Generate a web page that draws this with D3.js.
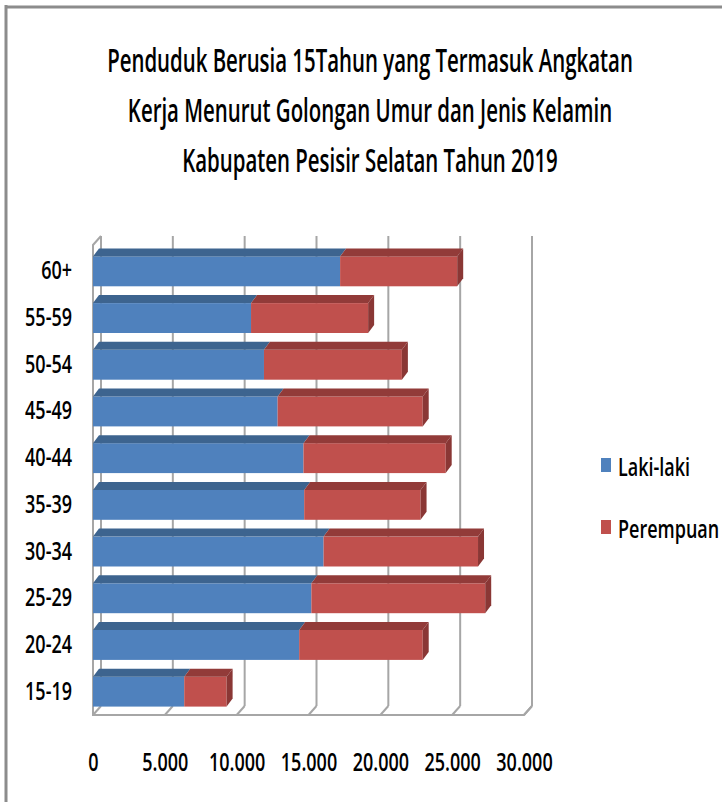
<!DOCTYPE html>
<head>
  <meta charset="utf-8">
  <script src="https://d3js.org/d3.v7.min.js"></script>
  <style>
    body { margin: 0; background: #fff; }
    text { font-family: "Open Sans", sans-serif; font-weight: 600; fill: #000; }
  </style>
</head>
<body>
  <svg width="722" height="802"></svg>
  <script>
    var categories = ["60+", "55-59", "50-54", "45-49", "40-44", "35-39", "30-34", "25-29", "20-24", "15-19"];
    var lakiLaki  = [17200, 11000, 11900, 12850, 14650, 14700, 16050, 15200, 14350, 6350];
    var perempuan = [8150, 8150, 9600, 10100, 9900, 8100, 10750, 12100, 8600, 2950];
    var seriesNames = ["Laki-laki", "Perempuan"];
    var xTicks = [0, 5000, 10000, 15000, 20000, 25000, 30000];
    var titleLines = [
      "Penduduk Berusia 15Tahun yang Termasuk Angkatan",
      "Kerja Menurut Golongan Umur dan Jenis Kelamin",
      "Kabupaten Pesisir Selatan Tahun 2019"
    ];

    var colors = {
      front: ["#4f81bd", "#c0504d"],
      top: ["#3d648f", "#923b39"],
      side: ["#3a5f8a", "#8a3735"]
    };

    var svg = d3.select("svg");
    var locale = d3.formatLocale({ decimal: ",", thousands: ".", grouping: [3], currency: ["", ""] });
    var fmt = locale.format(",");
    var squeeze = 0.72;

    var x = d3.scaleLinear().domain([0, 30000]).range([93, 524]);
    var y = d3.scaleBand().domain(categories).range([248, 715]).paddingInner(0.36).paddingOuter(0.18);

    // depth offsets for walls and bars
    var wdx = 8, wdy = -9;
    var bdx = 6, bdy = -8;
    var floorY = 715, wallTop = 245;

    // frame
    svg.append("line").attr("x1", 5).attr("x2", 722).attr("y1", 7).attr("y2", 7)
      .attr("stroke", "#8c8c8c").attr("stroke-width", 3);
    svg.append("line").attr("x1", 6).attr("x2", 6).attr("y1", 5).attr("y2", 802)
      .attr("stroke", "#8c8c8c").attr("stroke-width", 3);

    // title, squeezed so the first line is as wide as in the original
    var title = svg.append("g").selectAll("text").data(titleLines).join("text")
      .attr("text-anchor", "middle")
      .attr("font-size", 33)
      .text(function (d) { return d; });
    var w0 = title.node().getComputedTextLength();
    var ts = 526 / w0;
    title.attr("transform", function (d, i) { return "translate(370," + (72 + i * 50) + ") scale(" + ts + ",1)"; });

    var grid = svg.append("g").attr("stroke", "#a6a6a6").attr("stroke-width", 2).attr("fill", "none");

    // back wall gridlines
    grid.selectAll(".gv").data(xTicks).join("line")
      .attr("x1", function (d) { return x(d) + wdx; })
      .attr("x2", function (d) { return x(d) + wdx; })
      .attr("y1", wallTop + wdy)
      .attr("y2", floorY + wdy);

    // floor lines
    grid.selectAll(".gf").data(xTicks).join("line")
      .attr("x1", function (d) { return x(d); })
      .attr("x2", function (d) { return x(d) + wdx; })
      .attr("y1", floorY)
      .attr("y2", floorY + wdy);

    // left wall front edge and floor front edge
    grid.append("path")
      .attr("d", "M" + (x(0) + wdx) + "," + (wallTop + wdy) +
        "L" + x(0) + "," + wallTop +
        "L" + x(0) + "," + floorY +
        "L" + x(30000) + "," + floorY +
        "L" + (x(30000) + wdx) + "," + (floorY + wdy));

    // stacked bars
    var stacked = categories.map(function (c, i) {
      return [[0, lakiLaki[i]], [lakiLaki[i], lakiLaki[i] + perempuan[i]]];
    });

    var bars = svg.append("g");
    categories.forEach(function (c, i) {
      var y0 = y(c), h = y.bandwidth();
      var g = bars.append("g");
      stacked[i].forEach(function (seg, s) {
        var xa = x(seg[0]), xb = x(seg[1]);
        g.append("rect")
          .attr("x", xa).attr("y", y0)
          .attr("width", xb - xa).attr("height", h)
          .attr("fill", colors.front[s]);
        g.append("path")
          .attr("d", "M" + xa + "," + y0 + "L" + (xa + bdx) + "," + (y0 + bdy) +
            "L" + (xb + bdx) + "," + (y0 + bdy) + "L" + xb + "," + y0 + "Z")
          .attr("fill", colors.top[s]);
        if (s === stacked[i].length - 1) {
          g.append("path")
            .attr("d", "M" + xb + "," + y0 + "L" + (xb + bdx) + "," + (y0 + bdy) +
              "L" + (xb + bdx) + "," + (y0 + h + bdy) + "L" + xb + "," + (y0 + h) + "Z")
            .attr("fill", colors.side[s]);
        }
      });
    });

    // axes (labels only)
    var xAxis = svg.append("g")
      .attr("transform", "translate(0,750)")
      .call(d3.axisBottom(x).tickValues(xTicks).tickFormat(fmt).tickSize(0));
    xAxis.select(".domain").remove();
    xAxis.selectAll("text")
      .attr("font-size", 25)
      .attr("font-family", null)
      .attr("transform", "scale(" + squeeze + ",1)");

    var yAxis = svg.append("g")
      .attr("transform", "translate(72,0)")
      .call(d3.axisLeft(y).tickSize(0).tickPadding(0));
    yAxis.select(".domain").remove();
    yAxis.selectAll("text")
      .attr("font-size", 25)
      .attr("font-family", null)
      .attr("transform", "scale(" + squeeze + ",1)");

    // legend
    var legend = svg.append("g").selectAll("g").data(seriesNames).join("g")
      .attr("transform", function (d, i) { return "translate(601," + (458 + i * 62) + ")"; });
    legend.append("rect").attr("width", 10).attr("height", 14)
      .attr("fill", function (d, i) { return colors.front[i]; });
    legend.append("text")
      .attr("transform", "translate(17,18) scale(" + squeeze + ",1)")
      .attr("font-size", 25)
      .text(function (d) { return d; });
  </script>
</body>
